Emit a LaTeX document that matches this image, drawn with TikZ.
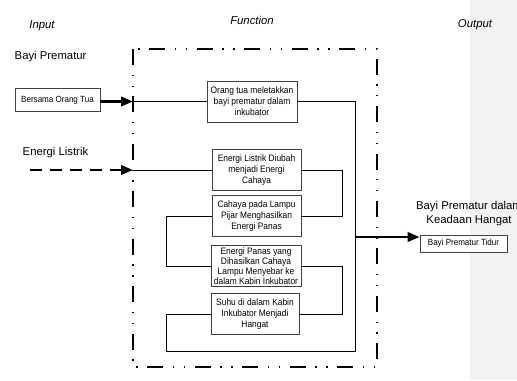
\documentclass[tikz,border=0pt]{standalone}
\usepackage{fontspec}
\setmainfont{Liberation Sans}
\newfontfamily\narrowfont[FakeStretch=0.9]{Liberation Sans}
\usetikzlibrary{arrows.meta,positioning,calc}

\begin{document}
\begin{tikzpicture}[
    x=0.75pt, y=0.75pt,
    box/.style={rectangle, draw=black!75, fill=white, line width=0.6pt, minimum width=67.5pt, minimum height=30.75pt, inner sep=0pt, align=center, font=\narrowfont\fontsize{7}{8.2}\selectfont},
    smallbox/.style={box, font=\narrowfont\fontsize{6.7}{8}\selectfont},
    heading/.style={font=\itshape\fontsize{8.5}{10}\selectfont},
    tag/.style={font=\fontsize{8.5}{10.5}\selectfont, align=center},
    frame/.style={line width=1.8pt, dash pattern=on 12pt off 7.2pt on 1pt off 7.2pt on 1pt off 7.2pt},
    flow/.style={line width=0.7pt},
    arrow/.style={->, line width=2pt, >={Triangle[length=9pt,width=7pt]}},
]
    \useasboundingbox (0,0) rectangle (517,-380);
    \clip (0,0) rectangle (517,-380);
    \fill[black!5] (470,0) rectangle (517,-380);

    % Headings
    \node[heading] (inhead) at (42,-26) {Input};
    \node[heading] (fnhead) at (252,-20) {Function};
    \node[heading] (outhead) at (475,-25) {Output};

    % Function frame
    \coordinate (fnw) at (133,-49);
    \coordinate (fse) at (377,-367);
    \draw[frame] (fnw) rectangle (fse);

    % Input side
    \node[tag, anchor=west] (bayi) at (10,-57) {Bayi Prematur};
    \node[tag, anchor=west] (listrik) at (18,-153) {Energi Listrik};
    \node[smallbox, minimum width=63.75pt, minimum height=17.25pt] (ortu) at (57.5,-100) {Bersama Orang Tua};
    \coordinate (lsrc) at (30,-170);

    % Function boxes
    \node[box] (letak) at (252,-101.5) {Orang tua meletakkan\\bayi prematur dalam\\inkubator};
    \node[box, minimum width=66.75pt] (ubah) at (256.5,-170) {Energi Listrik Diubah\\menjadi Energi\\Cahaya};
    \node[box, minimum width=66.75pt] (cahaya) at (256.5,-216) {Cahaya pada Lampu\\Pijar Menghasilkan\\Energi Panas};
    \node[box, minimum width=67.5pt, font=\narrowfont\fontsize{7}{7.6}\selectfont] (panas) at (256,-266) {Energi Panas yang\\Dihasilkan Cahaya\\Lampu Menyebar ke\\dalam Kabin Inkubator};
    \node[box, minimum width=66pt] (suhu) at (255,-314) {Suhu di dalam Kabin\\Inkubator Menjadi\\Hangat};

    % Output side
    \node[tag] (hangat) at (469,-213.5) {Bayi Prematur dalam\\Keadaan Hangat};
    \node[smallbox, minimum width=65.25pt, minimum height=12.75pt] (tidur) at (463.5,-243.5) {Bayi Prematur Tidur};

    % Connectors
    \coordinate (rbrk) at (342,0);
    \coordinate (lbrk) at (166.7,0);
    \coordinate (trunk) at (355,-351);
    \coordinate (outjoin) at (355,-237);

    \draw[arrow] (ortu.east |- letak.west) -- (fnw |- letak.west);
    \draw[flow] (fnw |- letak.west) -- (letak.west);
    \draw[arrow, dash pattern=on 9pt off 6pt] (lsrc |- ubah.west) -- (fnw |- ubah.west);
    \draw[flow] (fnw |- ubah.west) -- (ubah.west);

    \draw[flow] (ubah.east) -- (ubah.east -| rbrk) |- (cahaya.east);
    \draw[flow] (cahaya.west) -- (cahaya.west -| lbrk) |- (panas.west);
    \draw[flow] (panas.east) -- (panas.east -| rbrk) |- (suhu.east);
    \draw[flow] (suhu.west) -- (suhu.west -| lbrk) |- (trunk) |- (letak.east);

    \draw[arrow] (outjoin) -- (outjoin -| tidur.west);
\end{tikzpicture}
\end{document}
